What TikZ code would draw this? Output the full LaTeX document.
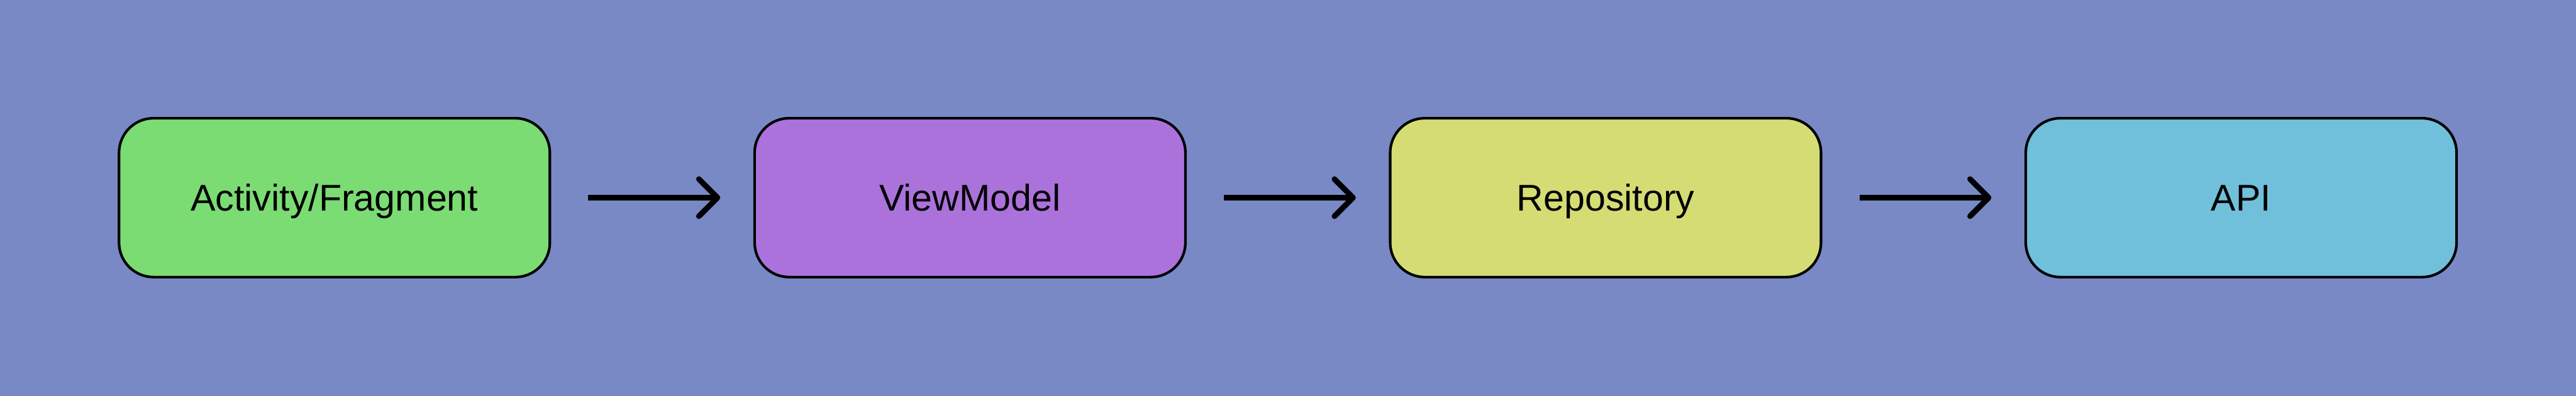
\documentclass[tikz,border=0pt]{standalone}
\usepackage{fontspec}
\setmainfont{Liberation Sans}
\usetikzlibrary{arrows.meta}
\definecolor{bgc}{RGB}{120,137,198}
\definecolor{cgreen}{RGB}{123,220,116}
\definecolor{cpurple}{RGB}{171,114,219}
\definecolor{cyellow}{RGB}{213,220,116}
\definecolor{cblue}{RGB}{112,192,220}
\tikzset{
  layerbox/.style={draw=black, line width=0.07cm, rounded corners=0.93cm,
    minimum width=11.6cm, minimum height=4.28cm, inner sep=0pt,
    font=\fontsize{28.5pt}{34pt}\selectfont, text height=20.4pt, text depth=0pt},
  flowarrow/.style={draw=black, line width=0.15cm,
    -{Straight Barb[length=0.5cm, width=1.0cm, line cap=round, line join=round]},
    shorten <=1cm, shorten >=0.89cm}
}
\begin{document}
\begin{tikzpicture}
\fill[bgc] (0,0) rectangle (69.36,10.66);
\useasboundingbox (0,0) rectangle (69.36,10.66);
\node[layerbox, fill=cgreen] (act) at (9.005,5.335) {Activity/Fragment};
\node[layerbox, fill=cpurple] (vm) at (26.118,5.335) {ViewModel};
\node[layerbox, fill=cyellow] (repo) at (43.231,5.335) {Repository};
\node[layerbox, fill=cblue] (api) at (60.344,5.335) {API};
\draw[flowarrow] (act) -- (vm);
\draw[flowarrow] (vm) -- (repo);
\draw[flowarrow] (repo) -- (api);
\end{tikzpicture}
\end{document}
